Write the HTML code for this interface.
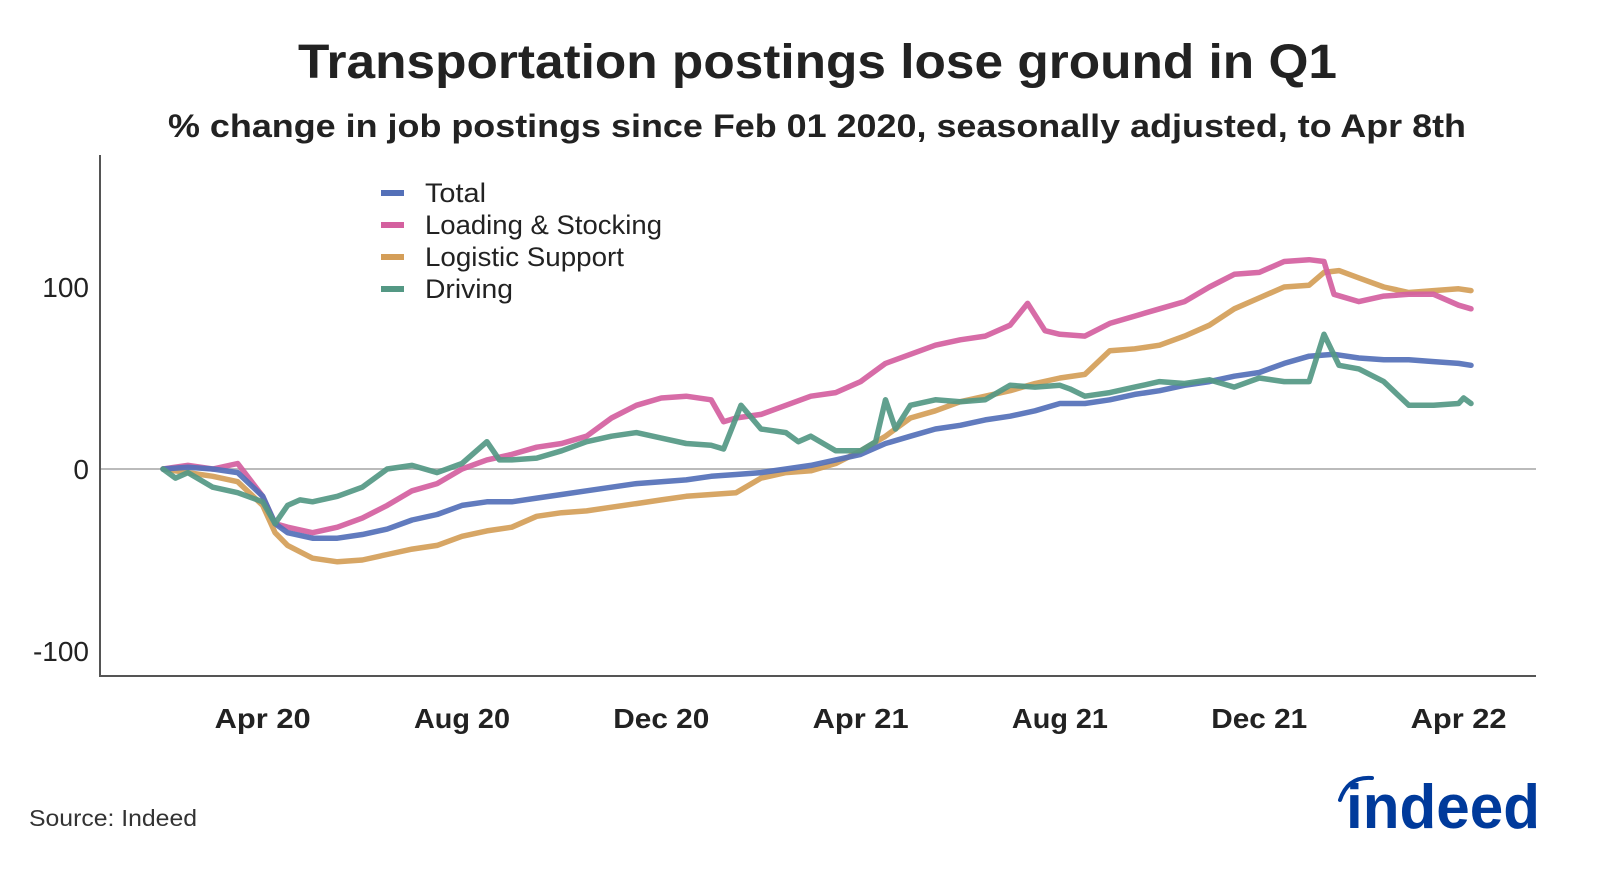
<!DOCTYPE html>
<html><head><meta charset="utf-8"><style>
html,body{margin:0;padding:0;background:#fff;}
body{width:1600px;height:866px;overflow:hidden;font-family:"Liberation Sans",sans-serif;}
</style></head><body>
<svg id="chart" width="1600" height="866" xmlns="http://www.w3.org/2000/svg" font-family="Liberation Sans, sans-serif">
<text x="298" y="78" textLength="1039" lengthAdjust="spacingAndGlyphs" font-size="48" font-weight="bold" fill="#222">Transportation postings lose ground in Q1</text>
<text x="168" y="137" textLength="1298" lengthAdjust="spacingAndGlyphs" font-size="32" font-weight="bold" fill="#222">% change in job postings since Feb 01 2020, seasonally adjusted, to Apr 8th</text>
<line x1="100" y1="155" x2="100" y2="676" stroke="#555" stroke-width="2"/>
<line x1="99" y1="676" x2="1536" y2="676" stroke="#555" stroke-width="2"/>
<g id="yticks"></g>
<g id="xticks"></g>
<g id="lines"></g>
<g id="legend"></g>
<text x="29" y="826" textLength="168" lengthAdjust="spacingAndGlyphs" font-size="23" fill="#333">Source: Indeed</text>
<g>
<path d="M1340,800 Q1348,776 1372,778" stroke="#003a9b" stroke-width="4" fill="none" stroke-linecap="round"/>
<text x="1346" y="828" textLength="194" lengthAdjust="spacingAndGlyphs" font-size="62" font-weight="bold" fill="#003a9b">indeed</text>
</g>
</svg>
<script>
const yTickVals=[-100,0,100];
const xTickLabels=["Apr 20","Aug 20","Dec 20","Apr 21","Aug 21","Dec 21","Apr 22"];
const xTickMonths=[2,6,10,14,18,22,26];
const seriesNames=["Total","Loading & Stocking","Logistic Support","Driving"];
const seriesColors=["#5470b8","#d4609f","#d49e58","#549884"];
const totalT=[0,0.5,1,1.5,2,2.25,2.5,3,3.5,4,4.5,5,5.5,6,6.5,7,7.5,8,8.5,9,9.5,10,10.5,11,11.5,12,12.5,13,13.5,14,14.5,15,15.5,16,16.5,17,17.5,18,18.5,19,19.5,20,20.5,21,21.5,22,22.5,23,23.5,24,24.5,25,25.5,26,26.25];
const totalV=[0,1,0,-2,-15,-30,-35,-38,-38,-36,-33,-28,-25,-20,-18,-18,-16,-14,-12,-10,-8,-7,-6,-4,-3,-2,0,2,5,8,14,18,22,24,27,29,32,36,36,38,41,43,46,48,51,53,58,62,63,61,60,60,59,58,57];
const loadT=[0,0.5,1,1.5,2,2.25,2.5,3,3.5,4,4.5,5,5.5,6,6.5,7,7.5,8,8.5,9,9.5,10,10.5,11,11.25,11.5,12,12.5,13,13.5,14,14.5,15,15.5,16,16.5,17,17.35,17.7,18,18.5,19,19.5,20,20.5,21,21.5,22,22.5,23,23.3,23.5,24,24.5,25,25.5,26,26.25];
const loadV=[0,2,0,3,-15,-30,-32,-35,-32,-27,-20,-12,-8,0,5,8,12,14,18,28,35,39,40,38,26,28,30,35,40,42,48,58,63,68,71,73,79,91,76,74,73,80,84,88,92,100,107,108,114,115,114,96,92,95,96,96,90,88];
const logT=[0,0.5,1,1.5,2,2.25,2.5,3,3.5,4,4.5,5,5.5,6,6.5,7,7.5,8,8.5,9,9.5,10,10.5,11,11.5,12,12.5,13,13.5,14,14.5,15,15.5,16,16.5,17,17.5,18,18.5,19,19.5,20,20.5,21,21.5,22,22.5,23,23.3,23.6,24,24.5,25,25.5,26,26.25];
const logV=[0,-2,-4,-7,-20,-35,-42,-49,-51,-50,-47,-44,-42,-37,-34,-32,-26,-24,-23,-21,-19,-17,-15,-14,-13,-5,-2,-1,3,10,18,28,32,37,40,43,47,50,52,65,66,68,73,79,88,94,100,101,108,109,105,100,97,98,99,98];
const driveT=[0,0.25,0.5,1,1.5,2,2.25,2.5,2.75,3,3.5,4,4.5,5,5.5,6,6.5,6.75,7,7.5,8,8.5,9,9.5,10,10.5,11,11.25,11.6,12,12.5,12.75,13,13.5,14,14.3,14.5,14.7,15,15.5,16,16.5,17,17.5,18,18.2,18.5,19,19.5,20,20.5,21,21.5,22,22.5,23,23.3,23.6,24,24.5,25,25.5,26,26.1,26.25];
const driveV=[0,-5,-2,-10,-13,-18,-30,-20,-17,-18,-15,-10,0,2,-2,3,15,5,5,6,10,15,18,20,17,14,13,11,35,22,20,15,18,10,10,15,38,22,35,38,37,38,46,45,46,44,40,42,45,48,47,49,45,50,48,48,74,57,55,48,35,35,36,39,36];
const seriesT=[totalT,loadT,logT,driveT];
const seriesV=[totalV,loadV,logV,driveV];
const legendWidths=[61,237,199,88];
const NS="http://www.w3.org/2000/svg";
function xs(m){return 163+m*49.83;}
function ys(v){return 469-v*1.82;}
const yt=document.getElementById('yticks');
yTickVals.forEach(v=>{
  if(v===0){const l=document.createElementNS(NS,'line');
    
    
    l.setAttribute('x1',101);l.setAttribute('x2',1536);l.setAttribute('y1',ys(0));l.setAttribute('y2',ys(0));
    l.setAttribute('stroke','#bbb');l.setAttribute('stroke-width','2');yt.appendChild(l);}
  const t=document.createElementNS(NS,'text');
  
  
  t.setAttribute('x',89);t.setAttribute('y',ys(v)+10);t.setAttribute('text-anchor','end');
  t.setAttribute('font-size','28');t.setAttribute('fill','#222');t.textContent=v;yt.appendChild(t);
});
const xt=document.getElementById('xticks');
xTickLabels.forEach((s,i)=>{
  const t=document.createElementNS(NS,'text');
  
  
  t.setAttribute('x',xs(xTickMonths[i])-48);t.setAttribute('y',728);
  t.setAttribute('textLength','96');t.setAttribute('lengthAdjust','spacingAndGlyphs');
  t.setAttribute('font-size','28');t.setAttribute('font-weight','bold');t.setAttribute('fill','#222');t.textContent=s;xt.appendChild(t);
});
const lg=document.getElementById('lines');
const order=[2,1,0,3];
order.forEach(i=>{
  const p=document.createElementNS(NS,'path');
  
  
  let d='';seriesT[i].forEach((m,j)=>{d+=(j?'L':'M')+xs(m).toFixed(1)+','+ys(seriesV[i][j]).toFixed(1);});
  p.setAttribute('d',d);p.setAttribute('fill','none');p.setAttribute('stroke',seriesColors[i]);
  p.setAttribute('stroke-width','5.5');p.setAttribute('stroke-linejoin','round');p.setAttribute('stroke-linecap','round');
  p.setAttribute('stroke-opacity','0.92');lg.appendChild(p);
});
const leg=document.getElementById('legend');
seriesNames.forEach((n,i)=>{
  const y=193+i*32;
  const l=document.createElementNS(NS,'line');
  
  
  l.setAttribute('x1',381);l.setAttribute('x2',404);l.setAttribute('y1',y);l.setAttribute('y2',y);
  l.setAttribute('stroke',seriesColors[i]);l.setAttribute('stroke-width','6');leg.appendChild(l);
  const t=document.createElementNS(NS,'text');
  
  
  t.setAttribute('x',425);t.setAttribute('y',y+9);t.setAttribute('font-size','27');t.setAttribute('fill','#222');
  t.setAttribute('textLength',legendWidths[i]);t.setAttribute('lengthAdjust','spacingAndGlyphs');
  t.textContent=n;leg.appendChild(t);
});
</script>
</body></html>
